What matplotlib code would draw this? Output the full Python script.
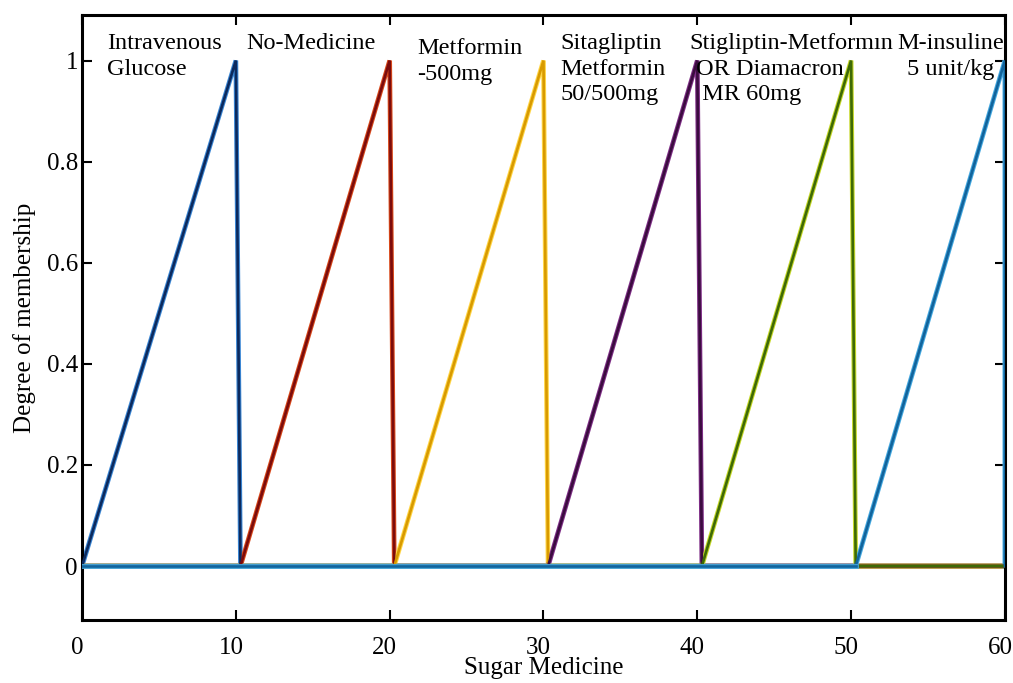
import matplotlib
matplotlib.use("Agg")
import matplotlib.pyplot as plt
import matplotlib.transforms as mtransforms
import numpy as np

# membership functions: start (0), peak (1), end (0)
starts = [0.0, 10.3, 20.3, 30.3, 40.3, 50.3]
peaks = [10.0, 20.0, 30.0, 40.0, 50.0, 60.0]
ends = [10.3, 20.3, 30.3, 40.3, 50.3, 60.0]
core_colors = ['#0c2a5e', '#7c0c0c', '#d89a00', '#3c0c40', '#3e6a06', '#12649c']
edge_colors = ['#3a86d4', '#d8481a', '#ffd648', '#7e2e86', '#c6d828', '#44a8e0']

labels = ['Intravenous\nGlucose', 'No-Medicine', 'Metformin\n-500mg',
          'Sitagliptin\nMetformin\n50/500mg',
          'Stigliptin-Metformın\n OR Diamacron\n  MR 60mg',
          'M-insuline\n5 unit/kg']
label_x = [1.6, 10.7, 21.8, 31.1, 39.5, 53.1]
label_y = [1.055, 1.055, 1.045, 1.055, 1.055, 1.055]
label_align = ['left', 'left', 'left', 'left', 'left', 'center']

plt.rcParams['font.family'] = ['Liberation Serif', 'DejaVu Serif']

fig = plt.figure(figsize=(10.13, 6.83), dpi=100)
ax = fig.add_axes([0.081, 0.092, 0.911, 0.886])

xmin, xmax = 0, 60
for s, p, e, cc, ec in zip(starts, peaks, ends, core_colors, edge_colors):
    xs = [xmin, s, p, e, xmax]
    ys = [0, 0, 1, 0, 0]
    ax.plot(xs, ys, color=ec, lw=3.4, solid_joinstyle='miter', zorder=2)
    ax.plot(xs, ys, color=cc, lw=1.9, solid_joinstyle='miter', zorder=3)

# baseline left part drawn by last (blue) series on top
ax.plot([xmin, starts[-1]], [0, 0], color=edge_colors[-1], lw=3.4, zorder=4)
ax.plot([xmin, starts[-1]], [0, 0], color=core_colors[-1], lw=1.9, zorder=5)

for t, x, y, al in zip(labels, label_x, label_y, label_align):
    if al == 'center':
        ax.text(x + 3.4, y, t, ha='center', va='top', fontsize=17.5,
                multialignment='center', linespacing=1.3)
    else:
        ax.text(x, y, t, ha='left', va='top', fontsize=17.5, linespacing=1.3)

ax.set_xlim(0, 60)
ax.set_ylim(-0.107, 1.09)
ax.set_xticks([0, 10, 20, 30, 40, 50, 60])
ax.set_yticks([0, 0.2, 0.4, 0.6, 0.8, 1])
ax.set_yticklabels(['0', '0.2', '0.4', '0.6', '0.8', '1'])
ax.tick_params(direction='in', top=True, right=True, length=7, width=1.5,
               labelsize=18)
ax.tick_params(axis='x', pad=12)
ax.tick_params(axis='y', pad=3)
for sp in ax.spines.values():
    sp.set_linewidth(2.2)

# nudge x tick labels slightly left so "60" stays inside the figure
shift = mtransforms.ScaledTranslation(-5 / 100, 0, fig.dpi_scale_trans)
for lab in ax.get_xticklabels():
    lab.set_transform(lab.get_transform() + shift)

ax.set_xlabel('Sugar Medicine', fontsize=18, labelpad=-1)
ax.set_ylabel('Degree of membership', fontsize=18, labelpad=8)

fig.savefig('out.png', dpi=100)
